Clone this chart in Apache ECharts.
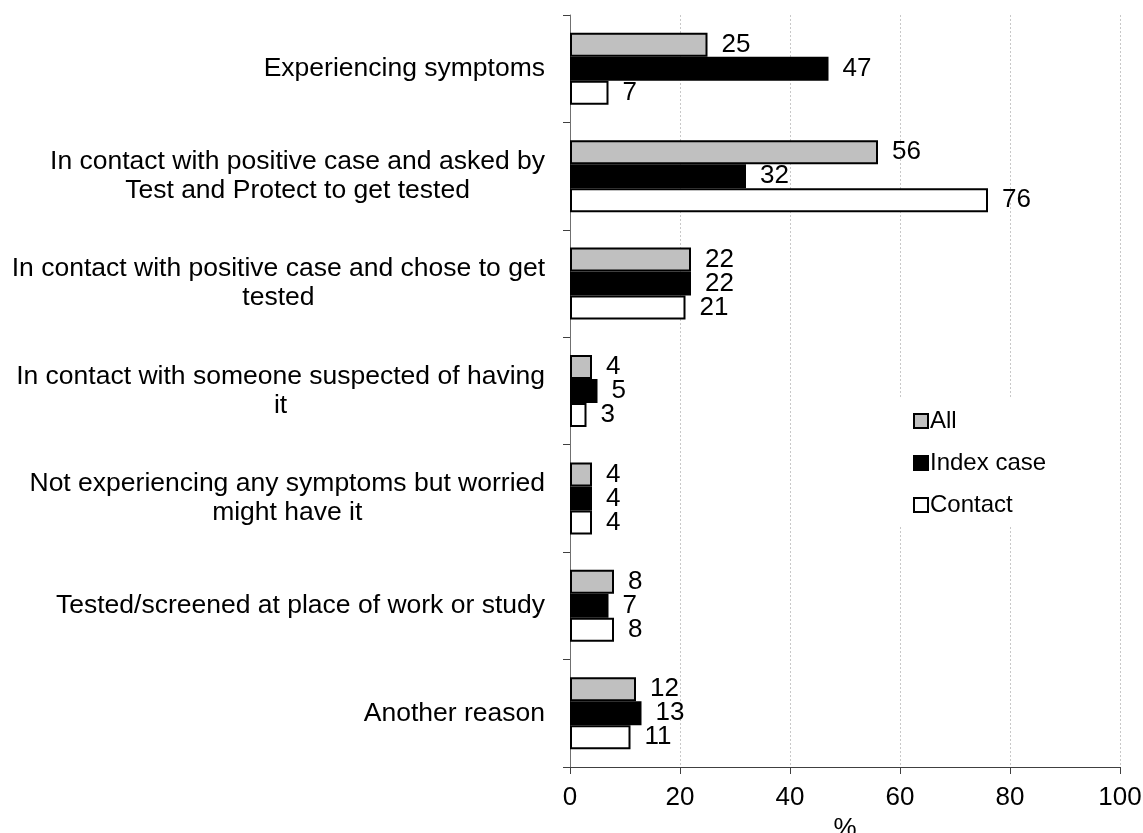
<!DOCTYPE html>
<html>
<head>
<meta charset="utf-8">
<script src="https://cdn.jsdelivr.net/npm/echarts@6/dist/echarts.min.js"></script>
<style>html,body{margin:0;padding:0;background:#fff}#c{width:1143px;height:833px}</style>
</head>
<body>
<div id="c"></div>
<script>
const categories = [
  "Experiencing symptoms",
  "In contact with positive case and asked by\nTest and Protect to get tested",
  "In contact with positive case and chose to get\ntested",
  "In contact with someone suspected of having\nit",
  "Not experiencing any symptoms but worried\nmight have it",
  "Tested/screened at place of work or study",
  "Another reason"
];
const seriesNames = ["All", "Index case", "Contact"];
const allValues = [25, 56, 22, 4, 4, 8, 12];
const indexValues = [47, 32, 22, 5, 4, 7, 13];
const contactValues = [7, 76, 21, 3, 4, 8, 11];
const xTicks = [0, 20, 40, 60, 80, 100];

const FONT = "'Liberation Sans', Arial, sans-serif";
const colors = ["#c0c0c0", "#000000", "#ffffff"];
const values = [allValues, indexValues, contactValues];

const chart = echarts.init(document.getElementById('c'), null, {renderer: 'canvas'});
chart.setOption({
  animation: false,
  backgroundColor: '#ffffff',
  grid: {left: 570, right: 23, top: 15, bottom: 66, containLabel: false, outerBoundsMode: 'none'},
  legend: {
    orient: 'vertical',
    left: 899,
    top: 399,
    padding: [10, 14, 10, 14],
    backgroundColor: '#ffffff',
    itemWidth: 14,
    itemHeight: 14,
    itemGap: 18,
    icon: 'rect',
    data: seriesNames,
    textStyle: {fontFamily: FONT, fontSize: 24, color: '#000', padding: [0, 0, 0, -3]}
  },
  xAxis: {
    type: 'value',
    min: xTicks[0],
    max: xTicks[xTicks.length - 1],
    interval: 20,
    name: '%',
    nameLocation: 'middle',
    nameGap: 45,
    nameTextStyle: {fontFamily: FONT, fontSize: 26, color: '#000'},
    axisLine: {show: true, lineStyle: {color: '#404040', width: 1}},
    axisTick: {show: true, length: 7, lineStyle: {color: '#404040'}},
    axisLabel: {fontFamily: FONT, fontSize: 26, color: '#000', margin: 18},
    splitLine: {show: true, lineStyle: {color: '#c8c8c8', type: [2, 2], width: 1}}
  },
  yAxis: {
    type: 'category',
    data: categories,
    inverse: true,
    axisLine: {show: true, lineStyle: {color: '#707070', width: 1}},
    axisTick: {show: true, length: 7, inside: false, lineStyle: {color: '#404040'}},
    axisLabel: {
      fontFamily: FONT, fontSize: 26.5, color: '#000', margin: 25, lineHeight: 29,
      formatter: function (v) { return v.split('\n').map(s => '{c|' + s + '}').join('\n'); },
      rich: {c: {align: 'center', fontFamily: FONT, fontSize: 26.5, lineHeight: 29, color: '#000'}}
    },
    splitLine: {show: false}
  },
  series: seriesNames.map((name, i) => ({
    name: name,
    type: 'bar',
    data: values[i],
    barWidth: 24,
    barGap: '0%',
    itemStyle: {color: colors[i], borderColor: '#000', borderWidth: 2},
    label: {
      show: true, position: 'right', distance: 14,
      fontFamily: FONT, fontSize: 26, color: '#000'
    }
  }))
});
</script>
</body>
</html>
